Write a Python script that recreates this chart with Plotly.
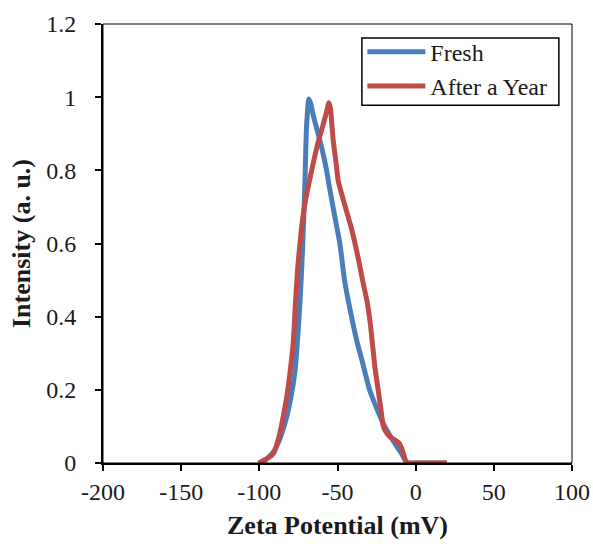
import plotly.graph_objects as go

# Fresh sample
fresh_x = [-99, -95, -91, -87, -83, -80, -77.2, -75.5, -74, -72.5, -71, -69.8, -68.3,
           -67, -65.5, -63, -60, -57, -55, -52, -48.5, -45.5, -42, -38, -34, -29.5,
           -25, -20.7, -16, -12, -8.5, -5.5, 0, 10, 20]
fresh_y = [0, 0.012, 0.03, 0.065, 0.118, 0.175, 0.25, 0.34, 0.44, 0.57, 0.74, 0.92, 0.995,
           0.98, 0.95, 0.91, 0.86, 0.8, 0.75, 0.68, 0.6, 0.5, 0.42, 0.34, 0.275, 0.2,
           0.15, 0.108, 0.072, 0.045, 0.022, 0, 0, 0, 0]

# After a year
year_x = [-100.5, -96, -91, -87.5, -84.7, -82.5, -80.4, -78.3, -77, -75.5, -74, -72.5,
          -70.8, -68, -65.5, -62.5, -59.5, -57, -55.5, -54.5, -53.5, -52.7, -51.5, -50.5,
          -49.5, -45, -41, -37, -33.5, -31, -29, -27.5, -26, -24, -22, -20.7, -18.5,
          -16.5, -13, -10.5, -8.5, -5.8, 0, 10, 20]
year_y = [0, 0.01, 0.026, 0.07, 0.127, 0.18, 0.246, 0.33, 0.43, 0.53, 0.6, 0.66,
          0.71, 0.77, 0.82, 0.875, 0.92, 0.96, 0.985, 0.97, 0.92, 0.88, 0.84, 0.805,
          0.77, 0.7, 0.64, 0.565, 0.49, 0.44, 0.38, 0.32, 0.26, 0.2, 0.14, 0.1, 0.082,
          0.072, 0.062, 0.054, 0.035, 0.003, 0, 0, 0]

x_ticks = [-200, -150, -100, -50, 0, 50, 100]
x_tick_labels = ["-200", "-150", "-100", "-50", "0", "50", "100"]
y_ticks = [0, 0.2, 0.4, 0.6, 0.8, 1.0, 1.2]
y_tick_labels = ["0", "0.2", "0.4", "0.6", "0.8", "1", "1.2"]

FONT = "Liberation Serif, Times New Roman, serif"
TXT = "#1a1a1a"

fig = go.Figure()
fig.add_trace(go.Scatter(x=fresh_x, y=fresh_y, mode="lines", name="Fresh",
                         line=dict(color="#4A7EBB", width=5, shape="spline", smoothing=0.6),
                         cliponaxis=False))
fig.add_trace(go.Scatter(x=year_x, y=year_y, mode="lines", name="After a Year",
                         line=dict(color="#BE4B48", width=5, shape="spline", smoothing=0.6),
                         cliponaxis=False))

fig.update_layout(
    width=593, height=546,
    margin=dict(l=103, r=21, t=24, b=83),
    plot_bgcolor="white", paper_bgcolor="white",
    font=dict(family=FONT, size=24, color=TXT),
    showlegend=True,
    legend=dict(x=0.553, y=0.987, xanchor="left", yanchor="top",
                borderwidth=0, bgcolor="rgba(0,0,0,0)",
                font=dict(family=FONT, size=24, color=TXT),
                itemwidth=58, tracegroupgap=0),
    shapes=[
        dict(type="rect", xref="paper", yref="paper", x0=0, y0=0, x1=1, y1=1,
             line=dict(color="black", width=1), layer="above"),
        dict(type="rect", xref="paper", yref="paper", x0=0.552, y0=0.815, x1=0.972, y1=0.968,
             line=dict(color="black", width=1.5), fillcolor="white", layer="below"),
    ],
)
fig.update_xaxes(range=[-200, 100], tickvals=x_ticks, ticktext=x_tick_labels,
                 ticks="outside", ticklen=6, automargin=False,
                 tickwidth=1.5, tickcolor="black", showline=True, linewidth=2,
                 linecolor="black", showgrid=False, zeroline=False,
                 tickfont=dict(family=FONT, size=24, color=TXT),
                 title=dict(text="<b>Zeta Potential (mV)</b>", standoff=12,
                            font=dict(family=FONT, size=26, color=TXT)))
fig.update_yaxes(range=[0, 1.2], tickvals=y_ticks, ticktext=y_tick_labels,
                 ticks="outside", ticklen=6, tickwidth=1.5, tickcolor="black",
                 showline=True, linewidth=2, linecolor="black", showgrid=False,
                 zeroline=False, ticklabelstandoff=14, automargin=False,
                 tickfont=dict(family=FONT, size=24, color=TXT),
                 title=dict(text="<b>Intensity (a. u.)</b>", standoff=8,
                            font=dict(family=FONT, size=26, color=TXT)))

fig.write_html("out.html", config={"displayModeBar": False},
               post_script="document.body.style.margin='0';document.body.style.overflow='hidden';")
